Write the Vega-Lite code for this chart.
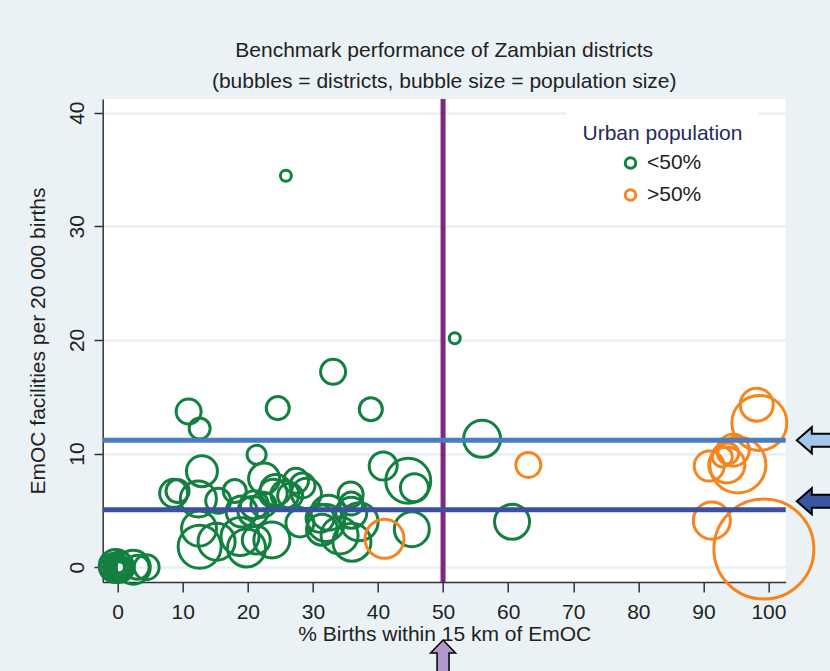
{
  "$schema": "https://vega.github.io/schema/vega-lite/v6.json",
  "width": 683,
  "height": 483,
  "autosize": {"type": "none"},
  "padding": {"left": 102.7, "top": 99, "right": 44.3, "bottom": 89},
  "background": "#eaf2f5",
  "config": {
    "font": "Liberation Sans",
    "view": {"fill": "white", "stroke": null},
    "axis": {
      "domainColor": "#333333",
      "domainWidth": 1.5,
      "tickColor": "#333333",
      "tickWidth": 1.5,
      "labelFontSize": 21,
      "labelColor": "#222222",
      "titleFontSize": 21,
      "titleFontWeight": "normal",
      "titleColor": "#222222"
    },
    "axisX": {"tickSize": 10, "labelPadding": 9.5, "titlePadding": 1, "grid": false},
    "axisY": {"tickSize": 8.7, "labelAngle": -90, "labelAlign": "center", "labelBaseline": "bottom", "labelPadding": 6.3, "titlePadding": 18, "grid": true, "gridColor": "#e6f0f4", "gridWidth": 2.5}
  },
  "title": {
    "text": ["Benchmark performance of Zambian districts", "(bubbles = districts, bubble size = population size)"],
    "fontSize": 21,
    "fontWeight": "normal",
    "color": "#222222",
    "lineHeight": 30.5,
    "offset": 5,
    "anchor": "middle",
    "frame": "group"
  },
  "datasets": {
    "districts": [
      {"pct": 25.85, "fac": 34.45, "pop": 21, "urban": "<50%"},
      {"pct": 51.8, "fac": 20.15, "pop": 21, "urban": "<50%"},
      {"pct": 33.1, "fac": 17.2, "pop": 109, "urban": "<50%"},
      {"pct": 10.9, "fac": 13.7, "pop": 109, "urban": "<50%"},
      {"pct": 12.6, "fac": 12.2, "pop": 77, "urban": "<50%"},
      {"pct": 24.6, "fac": 14.0, "pop": 93, "urban": "<50%"},
      {"pct": 38.9, "fac": 13.9, "pop": 93, "urban": "<50%"},
      {"pct": 21.35, "fac": 9.9, "pop": 63, "urban": "<50%"},
      {"pct": 12.95, "fac": 8.45, "pop": 168, "urban": "<50%"},
      {"pct": 40.8, "fac": 8.9, "pop": 137, "urban": "<50%"},
      {"pct": 44.65, "fac": 7.6, "pop": 354, "urban": "<50%"},
      {"pct": 45.6, "fac": 7.0, "pop": 137, "urban": "<50%"},
      {"pct": 45.2, "fac": 3.35, "pop": 214, "urban": "<50%"},
      {"pct": 8.6, "fac": 6.5, "pop": 137, "urban": "<50%"},
      {"pct": 9.2, "fac": 6.7, "pop": 93, "urban": "<50%"},
      {"pct": 12.4, "fac": 6.0, "pop": 227, "urban": "<50%"},
      {"pct": 12.5, "fac": 3.4, "pop": 214, "urban": "<50%"},
      {"pct": 12.6, "fac": 1.8, "pop": 324, "urban": "<50%"},
      {"pct": 15.45, "fac": 5.85, "pop": 109, "urban": "<50%"},
      {"pct": 15.2, "fac": 2.25, "pop": 240, "urban": "<50%"},
      {"pct": 18.0, "fac": 6.7, "pop": 93, "urban": "<50%"},
      {"pct": 18.8, "fac": 2.7, "pop": 253, "urban": "<50%"},
      {"pct": 19.8, "fac": 1.7, "pop": 253, "urban": "<50%"},
      {"pct": 19.05, "fac": 4.9, "pop": 168, "urban": "<50%"},
      {"pct": 20.8, "fac": 4.9, "pop": 158, "urban": "<50%"},
      {"pct": 22.5, "fac": 7.8, "pop": 168, "urban": "<50%"},
      {"pct": 23.7, "fac": 2.4, "pop": 227, "urban": "<50%"},
      {"pct": 23.9, "fac": 6.5, "pop": 137, "urban": "<50%"},
      {"pct": 25.7, "fac": 6.4, "pop": 137, "urban": "<50%"},
      {"pct": 27.4, "fac": 7.6, "pop": 109, "urban": "<50%"},
      {"pct": 28.4, "fac": 7.2, "pop": 109, "urban": "<50%"},
      {"pct": 29.0, "fac": 6.5, "pop": 158, "urban": "<50%"},
      {"pct": 28.0, "fac": 3.9, "pop": 137, "urban": "<50%"},
      {"pct": 31.1, "fac": 4.3, "pop": 137, "urban": "<50%"},
      {"pct": 32.4, "fac": 4.8, "pop": 214, "urban": "<50%"},
      {"pct": 31.4, "fac": 3.3, "pop": 168, "urban": "<50%"},
      {"pct": 32.0, "fac": 3.9, "pop": 240, "urban": "<50%"},
      {"pct": 35.8, "fac": 6.4, "pop": 109, "urban": "<50%"},
      {"pct": 35.9, "fac": 5.6, "pop": 93, "urban": "<50%"},
      {"pct": 35.9, "fac": 4.8, "pop": 168, "urban": "<50%"},
      {"pct": 37.1, "fac": 4.0, "pop": 253, "urban": "<50%"},
      {"pct": 36.0, "fac": 2.2, "pop": 253, "urban": "<50%"},
      {"pct": 34.1, "fac": 2.8, "pop": 240, "urban": "<50%"},
      {"pct": 24.3, "fac": 6.8, "pop": 168, "urban": "<50%"},
      {"pct": 26.5, "fac": 6.3, "pop": 109, "urban": "<50%"},
      {"pct": 21.0, "fac": 5.5, "pop": 137, "urban": "<50%"},
      {"pct": 22.4, "fac": 5.5, "pop": 109, "urban": "<50%"},
      {"pct": 21.3, "fac": 2.4, "pop": 137, "urban": "<50%"},
      {"pct": 56.0, "fac": 11.3, "pop": 240, "urban": "<50%"},
      {"pct": 60.6, "fac": 4.0, "pop": 214, "urban": "<50%"},
      {"pct": -0.3, "fac": 0.1, "pop": 191, "urban": "<50%"},
      {"pct": 0.2, "fac": 0.0, "pop": 158, "urban": "<50%"},
      {"pct": 0.1, "fac": -0.1, "pop": 118, "urban": "<50%"},
      {"pct": 0.2, "fac": 0.05, "pop": 85, "urban": "<50%"},
      {"pct": 0.3, "fac": 0.0, "pop": 51, "urban": "<50%"},
      {"pct": 0.2, "fac": 0.0, "pop": 21, "urban": "<50%"},
      {"pct": 0.1, "fac": 0.05, "pop": 34, "urban": "<50%"},
      {"pct": 0.3, "fac": -0.05, "pop": 70, "urban": "<50%"},
      {"pct": 0.0, "fac": 0.0, "pop": 101, "urban": "<50%"},
      {"pct": -0.5, "fac": 0.0, "pop": 137, "urban": "<50%"},
      {"pct": 2.4, "fac": 0.0, "pop": 202, "urban": "<50%"},
      {"pct": 3.0, "fac": 0.0, "pop": 101, "urban": "<50%"},
      {"pct": 4.45, "fac": 0.0, "pop": 109, "urban": "<50%"},
      {"pct": 41.0, "fac": 2.5, "pop": 266, "urban": ">50%"},
      {"pct": 63.1, "fac": 9.0, "pop": 109, "urban": ">50%"},
      {"pct": 98.2, "fac": 14.3, "pop": 191, "urban": ">50%"},
      {"pct": 98.6, "fac": 12.7, "pop": 529, "urban": ">50%"},
      {"pct": 94.6, "fac": 10.3, "pop": 179, "urban": ">50%"},
      {"pct": 93.8, "fac": 10.0, "pop": 77, "urban": ">50%"},
      {"pct": 92.9, "fac": 9.7, "pop": 70, "urban": ">50%"},
      {"pct": 90.9, "fac": 8.9, "pop": 158, "urban": ">50%"},
      {"pct": 93.6, "fac": 9.0, "pop": 227, "urban": ">50%"},
      {"pct": 95.3, "fac": 9.0, "pop": 549, "urban": ">50%"},
      {"pct": 91.3, "fac": 4.1, "pop": 240, "urban": ">50%"},
      {"pct": 99.3, "fac": 1.6, "pop": 1750, "urban": ">50%"}
    ]
  },
  "layer": [
    {
      "data": {"name": "districts"},
      "mark": {"type": "point", "shape": "circle", "filled": false, "strokeWidth": 3, "opacity": 1, "clip": false},
      "encoding": {
        "x": {"field": "pct", "type": "quantitative", "scale": {"domain": [-2.3, 102.65], "nice": false, "zero": false}, "axis": {"values": [0, 10, 20, 30, 40, 50, 60, 70, 80, 90, 100], "title": "% Births within 15 km of EmOC"}},
        "y": {"field": "fac", "type": "quantitative", "scale": {"domain": [-1.3, 41.2], "nice": false, "zero": false}, "axis": {"values": [0, 10, 20, 30, 40], "title": "EmOC facilities per 20 000 births"}},
        "size": {"field": "pop", "type": "quantitative", "scale": {"type": "linear", "domain": [0, 1750], "range": [0, 10000], "zero": true}, "legend": null},
        "color": {
          "field": "urban", "type": "nominal",
          "scale": {"domain": ["<50%", ">50%"], "range": ["#138040", "#f7841e"]},
          "legend": {
            "orient": "none", "legendX": 463.8, "legendY": 8.4,
            "title": "Urban population", "titleFontSize": 21, "titleColor": "#1e2b5c", "titleFontWeight": "normal", "titlePadding": 8,
            "labelFontSize": 21, "labelColor": "#222222",
            "symbolType": "circle", "symbolSize": 110, "symbolStrokeWidth": 3,
            "symbolOffset": 37.5, "labelOffset": 6, "rowPadding": 9,
            "padding": 16, "fillColor": "white"
          }
        }
      }
    },
    {
      "data": {"values": [{"pct": 50}]},
      "mark": {"type": "rule", "color": "#7d2887", "strokeWidth": 5},
      "encoding": {
        "x": {"field": "pct", "type": "quantitative", "scale": {"domain": [-2.3, 102.65], "nice": false, "zero": false}, "axis": {"values": [0, 10, 20, 30, 40, 50, 60, 70, 80, 90, 100], "title": "% Births within 15 km of EmOC"}}
      }
    },
    {
      "data": {"values": [{"fac": 11.17, "benchmark": "high"}, {"fac": 5.06, "benchmark": "low"}]},
      "mark": {"type": "rule", "strokeWidth": 5},
      "encoding": {
        "y": {"field": "fac", "type": "quantitative", "scale": {"domain": [-1.3, 41.2], "nice": false, "zero": false}, "axis": {"values": [0, 10, 20, 30, 40], "title": "EmOC facilities per 20 000 births"}},
        "stroke": {"field": "benchmark", "type": "nominal", "scale": {"domain": ["high", "low"], "range": ["#4a7cc0", "#3c50a0"]}, "legend": null}
      }
    },
    {
      "data": {"values": [{"pct": 108.2, "fac": 11.17, "arrow": "high"}, {"pct": 108.2, "fac": 5.8, "arrow": "low"}]},
      "mark": {"type": "point", "shape": "M -1 0 L -0.4 -0.52 L -0.4 -0.26 L 1 -0.26 L 1 0.26 L -0.4 0.26 L -0.4 0.52 Z", "size": 2500, "filled": true, "stroke": "black", "strokeWidth": 2, "opacity": 1, "clip": false},
      "encoding": {
        "x": {"field": "pct", "type": "quantitative", "scale": {"domain": [-2.3, 102.65], "nice": false, "zero": false}, "axis": {"values": [0, 10, 20, 30, 40, 50, 60, 70, 80, 90, 100], "title": "% Births within 15 km of EmOC"}},
        "y": {"field": "fac", "type": "quantitative", "scale": {"domain": [-1.3, 41.2], "nice": false, "zero": false}, "axis": {"values": [0, 10, 20, 30, 40], "title": "EmOC facilities per 20 000 births"}},
        "fill": {"field": "arrow", "type": "nominal", "scale": {"domain": ["high", "low"], "range": ["#a4c8ea", "#3b55a5"]}, "legend": null}
      }
    },
    {
      "data": {"values": [{"pct": 50, "fac": -8.6}]},
      "mark": {"type": "point", "shape": "M 0 -1 L 0.5 -0.48 L 0.24 -0.48 L 0.24 1 L -0.24 1 L -0.24 -0.48 L -0.5 -0.48 Z", "size": 2500, "filled": true, "fill": "#b398cf", "stroke": "black", "strokeWidth": 1.5, "opacity": 1, "clip": false},
      "encoding": {
        "x": {"field": "pct", "type": "quantitative", "scale": {"domain": [-2.3, 102.65], "nice": false, "zero": false}, "axis": {"values": [0, 10, 20, 30, 40, 50, 60, 70, 80, 90, 100], "title": "% Births within 15 km of EmOC"}},
        "y": {"field": "fac", "type": "quantitative", "scale": {"domain": [-1.3, 41.2], "nice": false, "zero": false}, "axis": {"values": [0, 10, 20, 30, 40], "title": "EmOC facilities per 20 000 births"}}
      }
    }
  ]
}
